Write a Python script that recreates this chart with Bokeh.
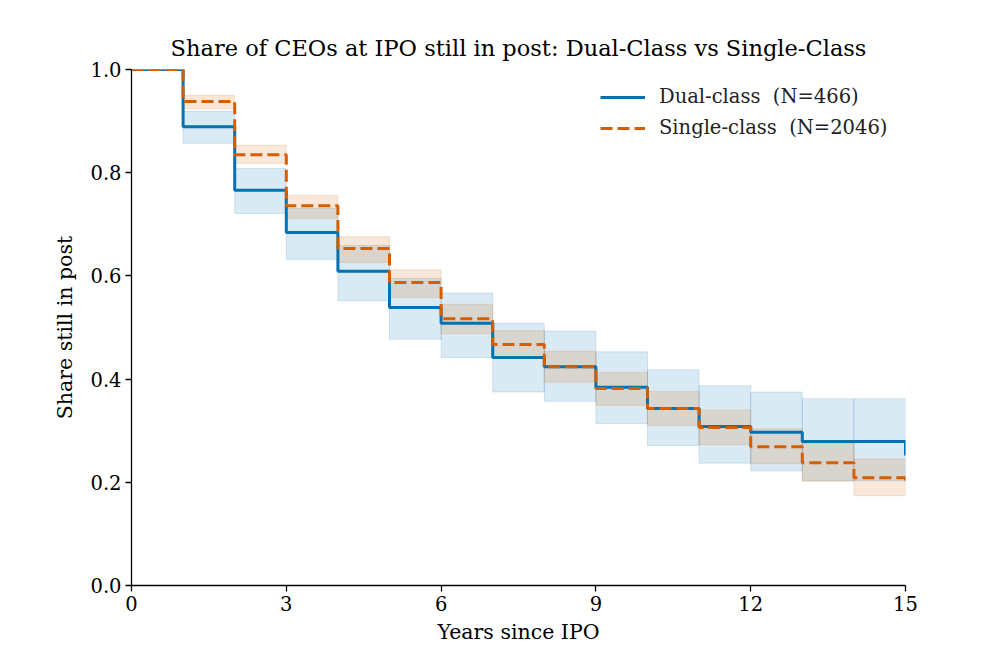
from bokeh.plotting import figure
from bokeh.models import Range1d, FixedTicker, PrintfTickFormatter, Legend, LegendItem
from bokeh.embed import file_html
from bokeh.resources import INLINE

# Step times (years since IPO)
years = [0, 1, 2, 3, 4, 5, 6, 7, 8, 9, 10, 11, 12, 13, 14, 15]

# Kaplan-Meier survival estimates (value held from each year to the next; last = value at 15)
dual_surv = [1.0, 0.889, 0.766, 0.684, 0.609, 0.539, 0.508, 0.442, 0.424, 0.384,
             0.343, 0.308, 0.297, 0.279, 0.279, 0.252]
single_surv = [1.0, 0.938, 0.835, 0.736, 0.653, 0.587, 0.517, 0.467, 0.424, 0.382,
               0.343, 0.306, 0.269, 0.238, 0.209, 0.194]

# Confidence bands per interval [year, year+1)
dual_lo = [1.0, 0.857, 0.721, 0.632, 0.552, 0.477, 0.442, 0.375, 0.357, 0.314,
           0.271, 0.237, 0.222, 0.203, 0.203]
dual_hi = [1.0, 0.919, 0.808, 0.731, 0.659, 0.595, 0.567, 0.508, 0.493, 0.453,
           0.418, 0.387, 0.375, 0.362, 0.362]
single_lo = [1.0, 0.924, 0.818, 0.711, 0.626, 0.558, 0.488, 0.447, 0.394, 0.349,
             0.310, 0.273, 0.236, 0.202, 0.174]
single_hi = [1.0, 0.950, 0.853, 0.756, 0.676, 0.612, 0.545, 0.494, 0.454, 0.413,
             0.376, 0.340, 0.304, 0.275, 0.245]

x_ticks = [0, 3, 6, 9, 12, 15]
y_ticks = [0.0, 0.2, 0.4, 0.6, 0.8, 1.0]

BLUE = "#0072B2"
ORANGE = "#D55E00"
SERIF = "DejaVu Serif"

p = figure(width=984, height=654, output_backend="svg", toolbar_location=None,
           x_range=Range1d(0, 15), y_range=Range1d(0, 1.0),
           min_border_left=131, min_border_right=79, min_border_top=69, min_border_bottom=69,
           title="Share of CEOs at IPO still in post: Dual-Class vs Single-Class")

p.title.text_font = SERIF
p.title.text_font_size = "22.5px"
p.title.text_font_style = "normal"
p.title.align = "center"
p.title.text_color = "#000000"
p.title.offset = 0
p.title.standoff = 17

p.outline_line_color = None
p.xgrid.visible = False
p.ygrid.visible = False

left = years[:-1]
right = years[1:]
p.quad(left=left, right=right, bottom=dual_lo, top=dual_hi,
       fill_color=BLUE, fill_alpha=0.15, line_color=BLUE, line_alpha=0.15, line_width=1)
p.quad(left=left, right=right, bottom=single_lo, top=single_hi,
       fill_color=ORANGE, fill_alpha=0.15, line_color=ORANGE, line_alpha=0.15, line_width=1)

r_dual = p.step(years, dual_surv, mode="after", line_color=BLUE, line_width=3)
r_single = p.step(years, single_surv, mode="after", line_color=ORANGE, line_width=3,
                  line_dash="12 5")

for ax in (p.xaxis[0], p.yaxis[0]):
    ax.axis_label_text_font = SERIF
    ax.axis_label_text_font_size = "20.5px"
    ax.axis_label_text_font_style = "normal"
    ax.axis_label_text_color = "#000000"
    ax.major_label_text_font = SERIF
    ax.major_label_text_font_size = "19.5px"
    ax.major_label_text_color = "#000000"
    ax.axis_line_color = "#000000"
    ax.axis_line_width = 1.3
    ax.major_tick_line_color = "#000000"
    ax.major_tick_line_width = 1.3
    ax.major_tick_out = 6
    ax.major_tick_in = 0
    ax.minor_tick_line_color = None
    ax.major_label_standoff = 4

p.xaxis.axis_label = "Years since IPO"
p.yaxis.axis_label = "Share still in post"
p.xaxis[0].ticker = FixedTicker(ticks=x_ticks)
p.yaxis[0].ticker = FixedTicker(ticks=y_ticks)
p.yaxis[0].formatter = PrintfTickFormatter(format="%.1f")
p.xaxis.axis_label_standoff = 6
p.yaxis.axis_label_standoff = 10

legend = Legend(items=[LegendItem(label="Dual-class  (N=466)", renderers=[r_dual]),
                       LegendItem(label="Single-class  (N=2046)", renderers=[r_single])],
                location=(469, 446))
legend.border_line_color = None
legend.background_fill_alpha = 0
legend.label_text_font = SERIF
legend.label_text_font_size = "19.5px"
legend.label_text_color = "#222222"
legend.glyph_width = 45
legend.glyph_height = 20
legend.label_height = 20
legend.label_standoff = 14
legend.spacing = 8
legend.margin = 0
legend.padding = 0
p.add_layout(legend)

open("out.html", "w").write(file_html(p, INLINE))
